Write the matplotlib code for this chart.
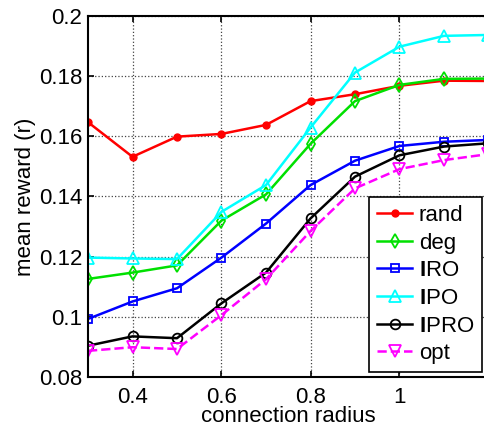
import matplotlib
matplotlib.use("Agg")
import matplotlib.pyplot as plt

plt.rcParams['font.family'] = ['Liberation Sans', 'DejaVu Sans']
plt.rcParams['mathtext.fontset'] = 'custom'
plt.rcParams['mathtext.rm'] = 'Liberation Sans'
plt.rcParams['mathtext.bf'] = 'Liberation Sans:bold'

radius = [0.3, 0.4, 0.5, 0.6, 0.7, 0.8, 0.9, 1.0, 1.1, 1.2]
rand = [0.1647, 0.1532, 0.1599, 0.1608, 0.1638, 0.1717, 0.1740, 0.1768, 0.1785, 0.1784]
deg = [0.1126, 0.1147, 0.1171, 0.1320, 0.1407, 0.1575, 0.1717, 0.1771, 0.1791, 0.1792]
iro = [0.0993, 0.1051, 0.1095, 0.1197, 0.1310, 0.1438, 0.1519, 0.1568, 0.1582, 0.1588]
ipo = [0.1197, 0.1194, 0.1192, 0.1349, 0.1438, 0.1629, 0.1812, 0.1898, 0.1934, 0.1937]
ipro = [0.0904, 0.0935, 0.0929, 0.1045, 0.1147, 0.1327, 0.1466, 0.1537, 0.1566, 0.1577]
opt = [0.0887, 0.0899, 0.0893, 0.1006, 0.1125, 0.1285, 0.1427, 0.1491, 0.1521, 0.1541]

fig = plt.figure(figsize=(4.85, 4.28), dpi=100)
ax = fig.add_axes([88 / 485, 1 - 377 / 428, 400.5 / 485, 361 / 428])

lw = 1.8
ax.plot(radius, rand, '-o', color='#ff0000', lw=lw, ms=5, label='rand')
ax.plot(radius, deg, '-d', color='#00e000', lw=lw, ms=7, mfc='none', mew=1.3, label='deg')
ax.plot(radius, iro, '-s', color='#0000ff', lw=lw, ms=6, mfc='none', mew=1.3, label=r'$\mathbf{I}$RO')
ax.plot(radius, ipo, '-^', color='#00ffff', lw=lw, ms=8, mfc='none', mew=1.3, label=r'$\mathbf{I}$PO')
ax.plot(radius, ipro, '-o', color='#000000', lw=lw, ms=7, mfc='none', mew=1.3, label=r'$\mathbf{I}$PRO')
ax.plot(radius, opt, '--v', color='#ff00ff', lw=lw, ms=8, mfc='none', mew=1.3, label='opt')

ax.set_xlim(0.3, 1.2)
ax.set_ylim(0.08, 0.2)
ax.set_xticks([0.4, 0.6, 0.8, 1.0])
ax.set_xticklabels(['0.4', '0.6', '0.8', '1'])
ax.set_yticks([0.08, 0.1, 0.12, 0.14, 0.16, 0.18, 0.2])
ax.set_yticklabels(['0.08', '0.1', '0.12', '0.14', '0.16', '0.18', '0.2'])
ax.tick_params(direction='in', labelsize=16, width=1.2, length=4, top=True)
ax.tick_params(axis='x', pad=7)
ax.tick_params(axis='y', pad=4)
ax.grid(True, linestyle=':', color='#444444', lw=0.9)
for s in ax.spines.values():
    s.set_linewidth(1.5)

ax.set_xlabel('connection radius', fontsize=16, labelpad=-1)
ax.set_ylabel('mean reward (r)', fontsize=16, labelpad=2)

leg = ax.legend(loc='lower right', bbox_to_anchor=(482 / 485, 1 - 372 / 428),
                bbox_transform=fig.transFigure, fontsize=16, fancybox=False,
                framealpha=1, edgecolor='black', handlelength=1.6,
                handletextpad=0.3, labelspacing=0.3, borderpad=0.35,
                borderaxespad=0)
leg.get_frame().set_linewidth(1.2)

fig.savefig('out.png', dpi=100)
